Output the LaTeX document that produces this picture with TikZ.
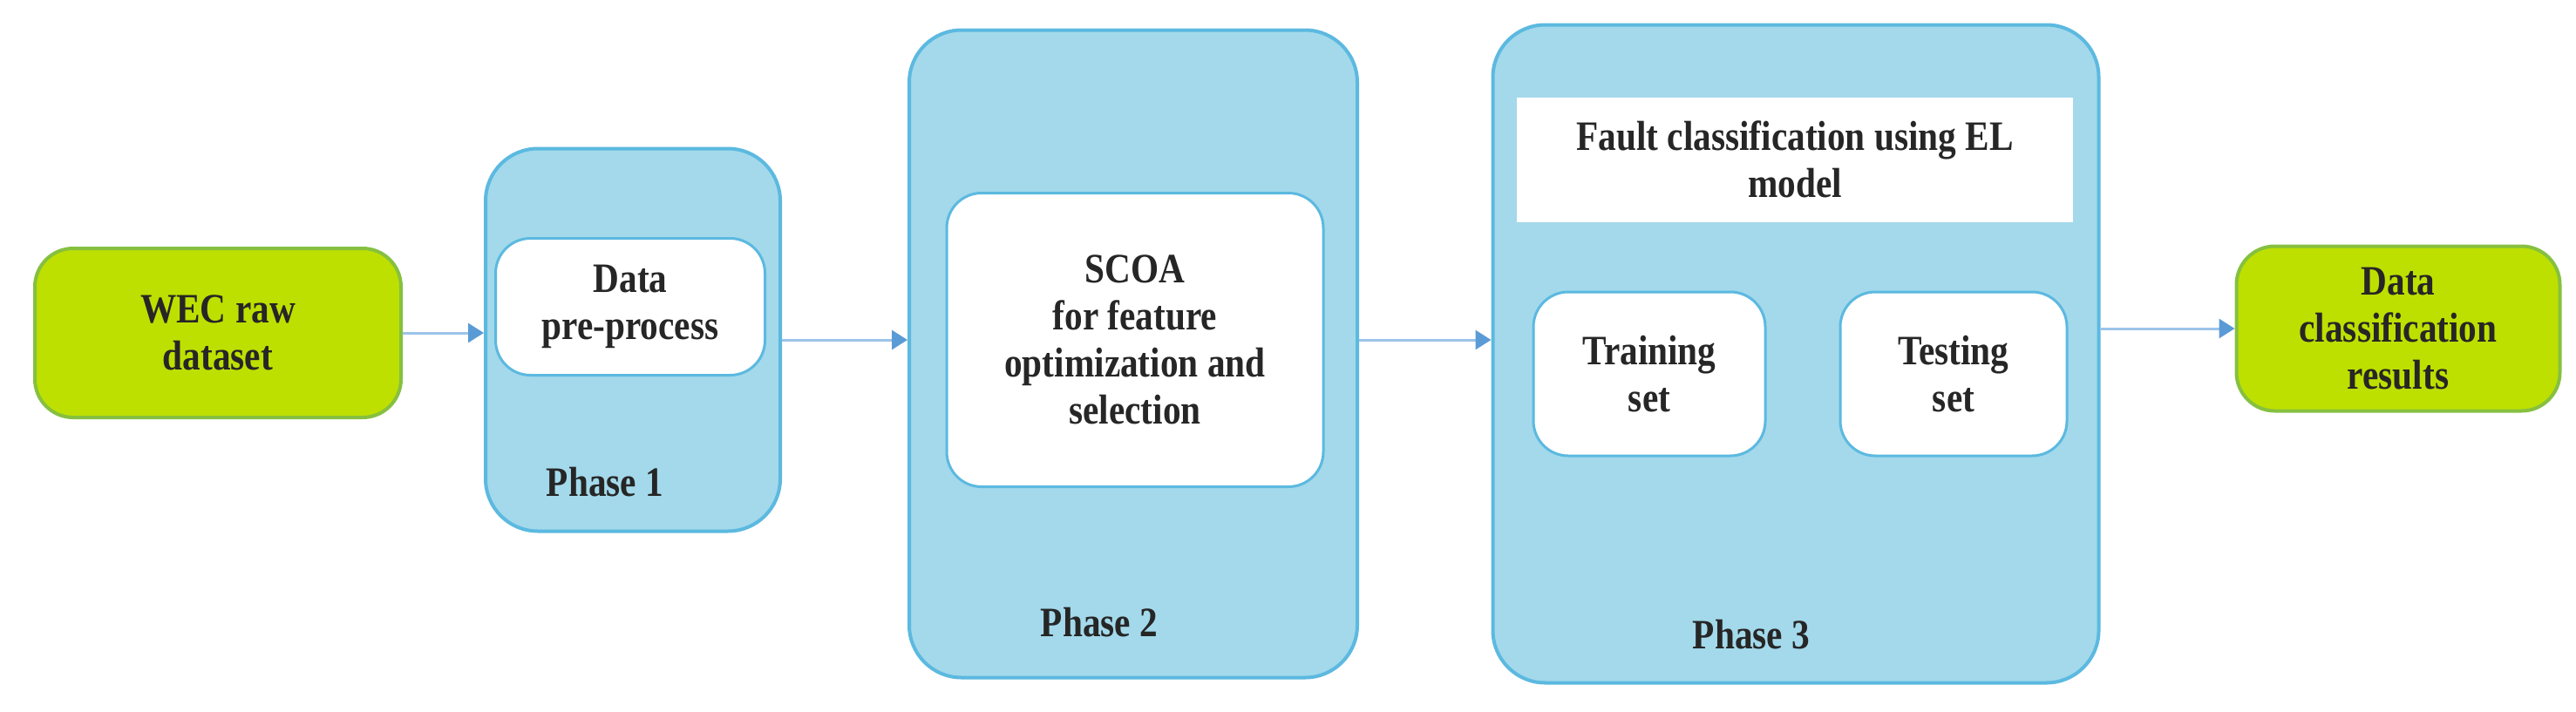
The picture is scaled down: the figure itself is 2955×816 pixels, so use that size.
\documentclass[tikz,border=0pt]{standalone}
\usepackage{fontspec}
\setmainfont{Liberation Serif}[FakeStretch=0.86]
\usetikzlibrary{arrows.meta}
\definecolor{bfill}{HTML}{A3D9EB}
\definecolor{bdraw}{HTML}{5CB9E0}
\definecolor{gfill}{HTML}{BEE000}
\definecolor{gdraw}{HTML}{86C040}
\definecolor{arr}{HTML}{9CC4E8}
\definecolor{arrh}{HTML}{5B9BD5}
\begin{document}
\begin{tikzpicture}[x=0.5pt,y=-0.5pt,
  txt/.style={font=\bfseries\fontsize{24}{27}\selectfont, align=center, text=black!85},
  green/.style={txt, fill=gfill, draw=gdraw, line width=2pt, rounded corners=22pt},
  phase/.style={fill=bfill, draw=bdraw, line width=2pt, rounded corners=30pt},
  inner/.style={txt, fill=white, draw=bdraw, line width=1.5pt, rounded corners=20pt},
  lab/.style={txt},
  conn/.style={draw=arr, line width=1.5pt, -{Triangle[length=9pt,width=11pt,color=arrh]}}]
\useasboundingbox (0,0) rectangle (2955,816);
\node[green, minimum width=210pt, minimum height=97pt] (wec) at (250,382) {WEC raw\\dataset};
\node[phase, minimum width=169pt, minimum height=219.5pt] (p1) at (726,390) {};
\node[inner, minimum width=154.5pt, minimum height=78.5pt] (pre) at (723,352) {Data\\pre-process};
\node[lab] (l1) at (694,553) {Phase 1};
\node[phase, minimum width=257pt, minimum height=371.5pt] (p2) at (1300,406) {};
\node[inner, minimum width=216pt, minimum height=168.5pt] (scoa) at (1302,390) {SCOA\\for feature\\optimization and\\selection};
\node[lab] (l2) at (1261,714) {Phase 2};
\node[phase, minimum width=347.5pt, minimum height=377.5pt] (p3) at (2060,406) {};
\node[txt, fill=white, minimum width=319pt, minimum height=71.5pt] (fault) at (2059,183) {Fault classification using EL\\model};
\node[inner, minimum width=133pt, minimum height=94pt] (train) at (1892,429) {Training\\set};
\node[inner, minimum width=130pt, minimum height=94pt] (test) at (2241,429) {Testing\\set};
\node[lab] (l3) at (2009,728) {Phase 3};
\node[green, minimum width=185.5pt, minimum height=94.5pt] (dcr) at (2751,377) {Data\\classification\\results};
\draw[conn] (wec.east) -- (p1.west |- wec.east);
\draw[conn] (p1.east |- scoa.west) -- (p2.west |- scoa.west);
\draw[conn] (p2.east |- scoa.west) -- (p3.west |- scoa.west);
\draw[conn] (p3.east |- dcr.west) -- (dcr.west);
\end{tikzpicture}
\end{document}
